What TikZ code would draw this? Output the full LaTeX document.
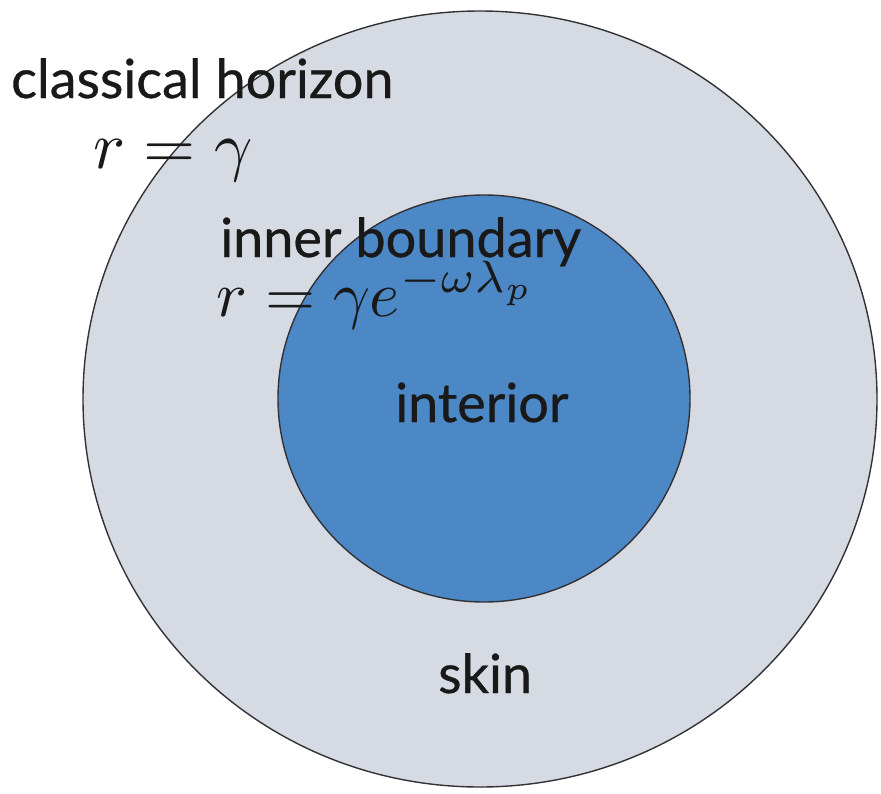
\documentclass[tikz,border=0pt]{standalone}
\usepackage{graphicx}
\usepackage{fontspec}
\setmainfont{Lato}[FakeBold=0.6]
\definecolor{skinfill}{RGB}{214,219,227}
\definecolor{corefill}{RGB}{76,136,198}
\definecolor{rim}{RGB}{50,50,55}
\tikzset{
  region/.style={draw=rim, line width=1.4pt},
  lbl/.style={anchor=base west, inner sep=0pt, font=\fontsize{54}{60}\selectfont, text=black!90},
  mth/.style={anchor=base west, inner sep=0pt, text=black!90}
}
\newcommand{\bigmath}[2]{\scalebox{#1}{$#2$}}
\begin{document}
\begin{tikzpicture}[x=1pt,y=-1pt]
\useasboundingbox (0,0) rectangle (881,793);
\fill[white] (0,0) rectangle (881,793);
\filldraw[region, fill=skinfill] (480,399) ellipse [x radius=397, y radius=388];
\filldraw[region, fill=corefill] (484,398.5) ellipse [x radius=206, y radius=203.5];
\node[lbl] (ch) at (11,98) {classical horizon};
\node[mth] (rg) at (93,168) {\bigmath{6.7}{r=\gamma}};
\node[lbl] (ib) at (220,257) {inner boundary};
\node[mth] (rge) at (216,316) {\bigmath{6.45}{r=\gamma e^{-\omega\lambda_p}}};
\node[lbl] (int) at (395,422) {interior};
\node[lbl] (sk) at (438,693) {skin};
\end{tikzpicture}
\end{document}
